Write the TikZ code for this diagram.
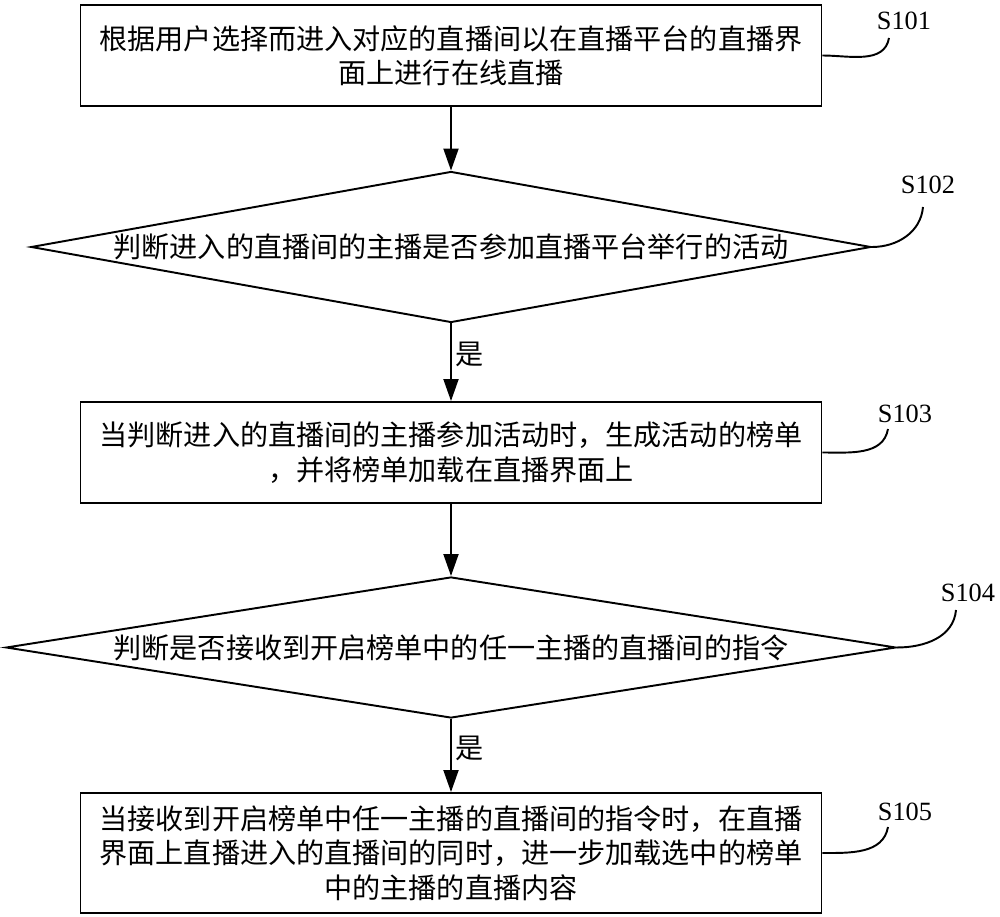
\documentclass[tikz,border=0pt]{standalone}
\usepackage{tikz}
\usetikzlibrary{shapes.geometric, positioning, arrows.meta}
\usepackage{xcolor}
\usepackage{fontspec}
\setmainfont{Liberation Serif}
\newfontfamily\cjk{Noto Sans CJK SC}

\begin{document}
\begin{tikzpicture}[
            box/.style={draw=black, line width=1.1pt, minimum width=14.82cm, minimum height=2.02cm, align=center, inner sep=0pt, font=\cjk\fontsize{16pt}{19.5pt}\selectfont},
            decision/.style={draw=black, line width=1.1pt, diamond, inner sep=0pt, align=center, font=\cjk\fontsize{16pt}{19.5pt}\selectfont},
            arrow/.style={-{Triangle[length=0.44cm, width=0.3cm]}, line width=1.1pt, black},
            lead/.style={line width=1.1pt, black},
            steplabel/.style={font=\fontsize{15pt}{18pt}\selectfont, inner sep=0pt},
            yes/.style={right, inner sep=2pt, font=\cjk\fontsize{16pt}{19.5pt}\selectfont}
        ]
            \useasboundingbox (0,0) rectangle (20,-18.34);
            \node[box] (s1) at (9.02,-1.11) {根据用户选择而进入对应的直播间以在直播平台的直播界\\面上进行在线直播};
            \node[decision, aspect=5.56, minimum width=16.8cm, minimum height=3.02cm] (s2) at (9.02,-4.94) {判断进入的直播间的主播是否参加直播平台举行的活动};
            \node[box] (s3) at (9.02,-9.05) {当判断进入的直播间的主播参加活动时，生成活动的榜单\\，并将榜单加载在直播界面上};
            \node[decision, aspect=6.31, minimum width=17.8cm, minimum height=2.82cm] (s4) at (9.02,-12.95) {判断是否接收到开启榜单中的任一主播的直播间的指令};
            \node[box, minimum height=2.4cm] (s5) at (9.02,-17.06) {当接收到开启榜单中任一主播的直播间的指令时，在直播\\界面上直播进入的直播间的同时，进一步加载选中的榜单\\中的主播的直播内容};

            \node[steplabel] (l1) at (18.08,-0.42) {S101};
            \node[steplabel] (l2) at (18.56,-3.70) {S102};
            \node[steplabel] (l3) at (18.10,-8.28) {S103};
            \node[steplabel] (l4) at (19.36,-11.86) {S104};
            \node[steplabel] (l5) at (18.10,-16.24) {S105};
            \coordinate (e1) at (17.78,-0.76);
            \coordinate (e2) at (18.46,-4.14);
            \coordinate (e3) at (17.76,-8.58);
            \coordinate (e4) at (19.12,-12.20);
            \coordinate (e5) at (17.76,-16.54);

            \draw[arrow] (s1) -- (s2);
            \draw[arrow] (s2) -- node[yes, pos=0.4]{是} (s3);
            \draw[arrow] (s3) -- (s4);
            \draw[arrow] (s4) -- node[yes, pos=0.4]{是} (s5);

            \draw[lead] (s1.east) to[out=0, in=-100] (e1);
            \draw[lead] (s2.east) to[out=0, in=-95] (e2);
            \draw[lead] (s3.east) to[out=0, in=-100] (e3);
            \draw[lead] (s4.east) to[out=0, in=-95] (e4);
            \draw[lead] (s5.east) to[out=0, in=-100] (e5);
        \end{tikzpicture}
\end{document}
